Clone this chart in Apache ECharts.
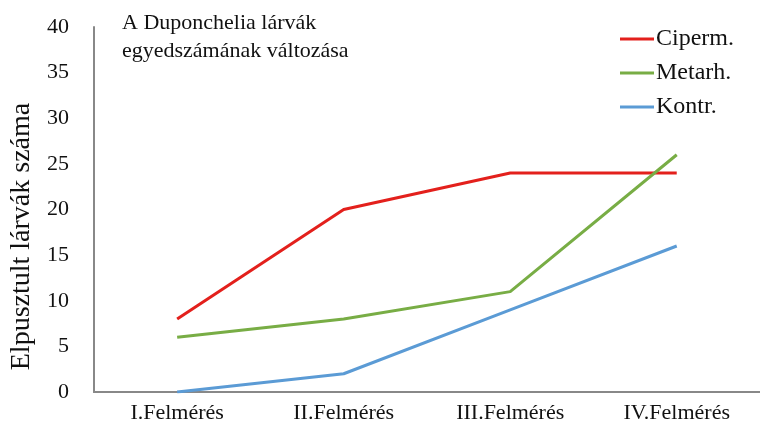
<!DOCTYPE html>
<html><head><meta charset="utf-8">
<script src="https://cdn.jsdelivr.net/npm/echarts@6/dist/echarts.min.js"></script>
<style>html,body{margin:0;padding:0;background:#fff}#c{width:760px;height:435px}</style>
</head><body><div id="c"></div>
<script>
const categories = ['I.Felmérés', 'II.Felmérés', 'III.Felmérés', 'IV.Felmérés'];
const ciperm = [8, 20, 24, 24];
const metarh = [6, 8, 11, 26];
const kontr = [0, 2, 9, 16];
const seriesNames = ['Ciperm.', 'Metarh.', 'Kontr.'];
const colors = ['#e3201c', '#78ad45', '#5b9bd5'];
const FONT = '"Liberation Serif", "Times New Roman", serif';
const chart = echarts.init(document.getElementById('c'));
const mk = (name, data, color) => ({
  name, type: 'line', data, symbol: 'none', color,
  lineStyle: { width: 3, color }, animation: false
});
chart.setOption({
  animation: false,
  textStyle: { fontFamily: FONT },
  title: {
    text: 'A Duponchelia lárvák\negyedszámának változása',
    left: 117, top: 4,
    textStyle: { fontFamily: FONT, fontSize: 22, fontWeight: 'normal', color: '#111', lineHeight: 28 }
  },
  legend: {
    orient: 'vertical', left: 615, top: 22, itemGap: 10,
    itemWidth: 34, itemHeight: 3,
    icon: 'rect',
    textStyle: { fontFamily: FONT, fontSize: 24, color: '#111', padding: [0, 0, 0, -3] },
    data: seriesNames
  },
  grid: { left: 93, right: -4, top: 27, bottom: 43 },
  xAxis: {
    type: 'category', data: categories, boundaryGap: true,
    axisLine: { lineStyle: { color: '#888', width: 2 } },
    axisTick: { show: false },
    axisLabel: { fontFamily: FONT, fontSize: 22, color: '#111', margin: 10 }
  },
  yAxis: {
    type: 'value', min: 0, max: 40, interval: 5,
    name: 'Elpusztult lárvák száma', nameLocation: 'middle', nameGap: 56, nameRotate: 90,
    nameTextStyle: { fontFamily: FONT, fontSize: 28, color: '#111', padding: [0, 54, 0, 0] },
    splitLine: { show: false },
    axisLine: { show: true, lineStyle: { color: '#888', width: 2 } },
    axisTick: { show: false },
    axisLabel: { fontFamily: FONT, fontSize: 22, color: '#111', margin: 25 }
  },
  series: [mk(seriesNames[0], ciperm, colors[0]), mk(seriesNames[1], metarh, colors[1]), mk(seriesNames[2], kontr, colors[2])]
});
</script></body></html>
